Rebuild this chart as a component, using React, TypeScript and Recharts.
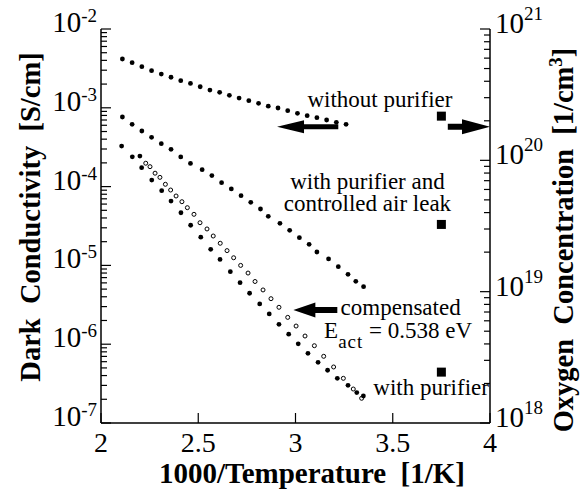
import React from 'react';
import { ScatterChart, Scatter, XAxis, YAxis, ReferenceLine, ReferenceDot } from 'recharts';

const FONT = 'Liberation Serif, Tinos, Times New Roman, serif';

// 1000/T [1/K] and dark conductivity [S/cm]
const withoutPurifierX = [2.11, 2.16, 2.21, 2.26, 2.31, 2.36, 2.41, 2.46, 2.51, 2.56, 2.61, 2.66, 2.71, 2.76, 2.81, 2.86, 2.91, 2.96, 3.01, 3.06, 3.11, 3.16, 3.21, 3.26];
const withoutPurifierY = [4.16e-3, 3.74e-3, 3.33e-3, 2.96e-3, 2.68e-3, 2.44e-3, 2.21e-3, 2.04e-3, 1.85e-3, 1.68e-3, 1.57e-3, 1.44e-3, 1.33e-3, 1.23e-3, 1.14e-3, 1.05e-3, 9.94e-4, 9.2e-4, 8.51e-4, 7.95e-4, 7.5e-4, 7.0e-4, 6.54e-4, 6.17e-4];

const airLeakX = [2.11, 2.16, 2.21, 2.26, 2.31, 2.36, 2.41, 2.46, 2.52, 2.57, 2.62, 2.67, 2.72, 2.77, 2.82, 2.86, 2.92, 2.97, 3.02, 3.07, 3.11, 3.17, 3.22, 3.27, 3.31, 3.35];
const airLeakY = [7.64e-4, 6.17e-4, 5.08e-4, 4.22e-4, 3.51e-4, 2.97e-4, 2.38e-4, 1.97e-4, 1.64e-4, 1.38e-4, 1.12e-4, 9.33e-5, 7.68e-5, 6.31e-5, 5.2e-5, 4.2e-5, 3.42e-5, 2.79e-5, 2.25e-5, 1.85e-5, 1.48e-5, 1.21e-5, 9.63e-6, 7.7e-6, 6.28e-6, 5.37e-6];

const withPurifierX = [2.106, 2.161, 2.2, 2.209, 2.261, 2.312, 2.36, 2.411, 2.461, 2.513, 2.564, 2.612, 2.665, 2.715, 2.764, 2.816, 2.865, 2.915, 2.965, 3.014, 3.064, 3.116, 3.165, 3.215, 3.27, 3.315, 3.349];
const withPurifierY = [3.27e-4, 2.39e-4, 2.44e-4, 1.74e-4, 1.21e-4, 8.87e-5, 6.56e-5, 4.66e-5, 3.23e-5, 2.28e-5, 1.6e-5, 1.19e-5, 8.32e-6, 6.04e-6, 4.43e-6, 3.24e-6, 2.42e-6, 1.79e-6, 1.34e-6, 1.01e-6, 7.66e-7, 5.89e-7, 4.67e-7, 3.69e-7, 3.01e-7, 2.43e-7, 2.2e-7];

const compensatedX = [2.23, 2.252, 2.278, 2.303, 2.331, 2.358, 2.386, 2.416, 2.444, 2.478, 2.509, 2.545, 2.577, 2.613, 2.648, 2.682, 2.718, 2.756, 2.792, 2.833, 2.874, 2.915, 2.96, 3.003, 3.049, 3.097, 3.145, 3.196, 3.246, 3.297, 3.34];
const compensatedY = [1.98e-4, 1.79e-4, 1.48e-4, 1.31e-4, 1.07e-4, 9.05e-5, 7.6e-5, 6.43e-5, 5.4e-5, 4.45e-5, 3.48e-5, 2.9e-5, 2.36e-5, 1.91e-5, 1.54e-5, 1.25e-5, 1.0e-5, 8.0e-6, 6.25e-6, 4.88e-6, 3.78e-6, 2.94e-6, 2.19e-6, 1.7e-6, 1.27e-6, 9.57e-7, 7.02e-7, 5.14e-7, 3.69e-7, 2.7e-7, 2.06e-7];

// oxygen concentration [1/cm^3], right axis
const oxygenX = [3.75, 3.75, 3.75];
const oxygenY = [2.17e20, 3.25e19, 2.44e18];

const xTicks = [2, 2.5, 3, 3.5, 4];
const leftMajor = [1e-7, 1e-6, 1e-5, 1e-4, 1e-3, 1e-2];
const rightMajor = [1e18, 1e19, 1e20, 1e21];
const minorSteps = [2, 3, 4, 5, 6, 7, 8, 9];

const withMinor = (majors: number[]) => {
  const out: number[] = [];
  majors.forEach((m, i) => {
    out.push(m);
    if (i < majors.length - 1) minorSteps.forEach((s) => out.push(m * s));
  });
  return out;
};
const leftTicks = withMinor(leftMajor);
const rightTicks = withMinor(rightMajor);

const toPoints = (xs: number[], ys: number[]) => xs.map((x, i) => ({ x, y: ys[i] }));

const isMajor = (v: number, majors: number[]) => majors.some((m) => Math.abs(v - m) / m < 1e-6);

const txt = (size: number, bold = false): React.CSSProperties => ({
  fontFamily: FONT,
  fontSize: size,
  fontWeight: bold ? 'bold' : 'normal',
  whiteSpace: 'pre',
});

const FilledDot = (p: any) => <circle cx={p.cx} cy={p.cy} r={2.4} fill="#000" />;
const OpenDot = (p: any) => <circle cx={p.cx} cy={p.cy} r={2} fill="#fff" stroke="#000" strokeWidth={1} />;
const Square = (p: any) => <rect x={p.cx - 4.5} y={p.cy - 4.5} width={9} height={9} fill="#000" />;

const LeftTick = ({ x, y, payload }: any) => {
  const major = isMajor(payload.value, leftMajor);
  const e = Math.round(Math.log10(payload.value));
  return (
    <g>
      <line x1={x} x2={x + (major ? 10 : 6)} y1={y} y2={y} stroke="#000" strokeWidth={1.2} />
      {major && (
        <text x={x - 4} y={y + 3} textAnchor="end" fill="#000" style={txt(29)}>
          10<tspan dy={-10} style={txt(19)}>{e}</tspan>
        </text>
      )}
    </g>
  );
};

const RightTick = ({ x, y, payload }: any) => {
  const major = isMajor(payload.value, rightMajor);
  const e = Math.round(Math.log10(payload.value));
  return (
    <g>
      <line x1={x} x2={x - (major ? 10 : 6)} y1={y} y2={y} stroke="#000" strokeWidth={1.2} />
      {major && (
        <text x={x + 5} y={y + 4} textAnchor="start" fill="#000" style={txt(29)}>
          10<tspan dy={-13} style={txt(19)}>{e}</tspan>
        </text>
      )}
    </g>
  );
};

const BottomTick = ({ x, y, payload }: any) => (
  <g>
    <line x1={x} x2={x} y1={y} y2={y - 10} stroke="#000" strokeWidth={1.2} />
    <text x={x} y={y + 29} textAnchor="middle" fill="#000" style={txt(28)}>
      {payload.value}
    </text>
  </g>
);

const TopTick = ({ x, y }: any) => <line x1={x} x2={x} y1={y} y2={y + 10} stroke="#000" strokeWidth={1.2} />;

const arrow = (headLen: number, headHalf: number, shaftHalf: number) => (p: any) => {
  const { x1, y1, x2 } = p;
  const dir = x2 > x1 ? 1 : -1;
  const b = x2 - dir * headLen;
  const pts = [
    [x1, y1 - shaftHalf], [b, y1 - shaftHalf], [b, y1 - headHalf], [x2, y1],
    [b, y1 + headHalf], [b, y1 + shaftHalf], [x1, y1 + shaftHalf],
  ].map((q) => q.join(',')).join(' ');
  return <polygon points={pts} fill="#000" />;
};

const note = (text: React.ReactNode, anchor: string = 'start') => (p: any) => (
  <text x={p.cx} y={p.cy} textAnchor={anchor} fill="#000" style={txt(23)}>
    {text}
  </text>
);

const axisLine = { stroke: '#000', strokeWidth: 1.5 };

export default function App() {
  return (
    <div style={{ position: 'absolute', left: 0, top: 0, background: '#fff' }}>
      <ScatterChart width={580} height={491} margin={{ top: 29, right: 0, bottom: 0, left: 0 }}>
        <XAxis dataKey="x" type="number" domain={[2, 4]} ticks={xTicks} allowDataOverflow height={68}
          axisLine={axisLine} tickLine={false} tickSize={0} tickMargin={0} interval={0} tick={<BottomTick />} />
        <XAxis xAxisId="top" orientation="top" type="number" domain={[2, 4]} ticks={xTicks} allowDataOverflow height={0}
          axisLine={axisLine} tickLine={false} tickSize={0} tickMargin={0} interval={0} tick={<TopTick />} />
        <YAxis dataKey="y" type="number" scale="log" domain={[1e-7, 1e-2]} ticks={leftTicks} allowDataOverflow width={101}
          axisLine={axisLine} tickLine={false} tickSize={0} tickMargin={0} interval={0} tick={<LeftTick />} />
        <YAxis yAxisId="right" orientation="right" dataKey="y" type="number" scale="log" domain={[1e18, 1e21]} ticks={rightTicks}
          allowDataOverflow width={90} axisLine={axisLine} tickLine={false} tickSize={0} tickMargin={0} interval={0} tick={<RightTick />} />

        <Scatter data={toPoints(withoutPurifierX, withoutPurifierY)} shape={FilledDot} isAnimationActive={false} />
        <Scatter data={toPoints(airLeakX, airLeakY)} shape={FilledDot} isAnimationActive={false} />
        <Scatter data={toPoints(compensatedX, compensatedY)} shape={OpenDot} isAnimationActive={false} />
        <Scatter data={toPoints(withPurifierX, withPurifierY)} shape={FilledDot} isAnimationActive={false} />
        <Scatter yAxisId="right" data={toPoints(oxygenX, oxygenY)} shape={Square} isAnimationActive={false} />

        <ReferenceLine segment={[{ x: 3.22, y: 5.75e-4 }, { x: 2.905, y: 5.75e-4 }]} shape={arrow(27, 6.5, 2.5)} />
        <ReferenceLine yAxisId="right" segment={[{ x: 3.783, y: 1.8e20 }, { x: 4, y: 1.8e20 }]} shape={arrow(28, 7.5, 3)} />
        <ReferenceLine segment={[{ x: 3.215, y: 2.72e-6 }, { x: 2.989, y: 2.72e-6 }]} shape={arrow(22, 7.5, 3)} />

        <ReferenceDot x={3.434} y={1.01e-3} shape={note('without purifier', 'middle')} />
        <ReferenceDot x={3.37} y={9.33e-5} shape={note('with purifier and', 'middle')} />
        <ReferenceDot x={3.37} y={4.9e-5} shape={note('controlled air leak', 'middle')} />
        <ReferenceDot x={3.232} y={2.35e-6} shape={note('compensated')} />
        <ReferenceDot x={3.147} y={1.19e-6} shape={note(<>E<tspan dy={10} style={txt(19)} letterSpacing={1}>act</tspan><tspan dy={-10}> = 0.538 eV</tspan></>)} />
        <ReferenceDot x={3.4} y={2.26e-7} shape={note('with purifier')} />
      </ScatterChart>
      <svg width={580} height={491} style={{ position: 'absolute', left: 0, top: 0, pointerEvents: 'none' }}>
        <text x={312} y={483} textAnchor="middle" style={txt(29, true)}>1000/Temperature  [1/K]</text>
        <text transform="translate(40,217) rotate(-90)" textAnchor="middle" style={txt(28.5, true)}>
          Dark  Conductivity  [S/cm]
        </text>
        <text transform="translate(573,240) rotate(-90)" textAnchor="middle" style={txt(28.5, true)}>
          Oxygen  Concentration  [1/cm<tspan dy={-11} style={txt(19, true)}>3</tspan><tspan dy={11}>]</tspan>
        </text>
      </svg>
    </div>
  );
}
